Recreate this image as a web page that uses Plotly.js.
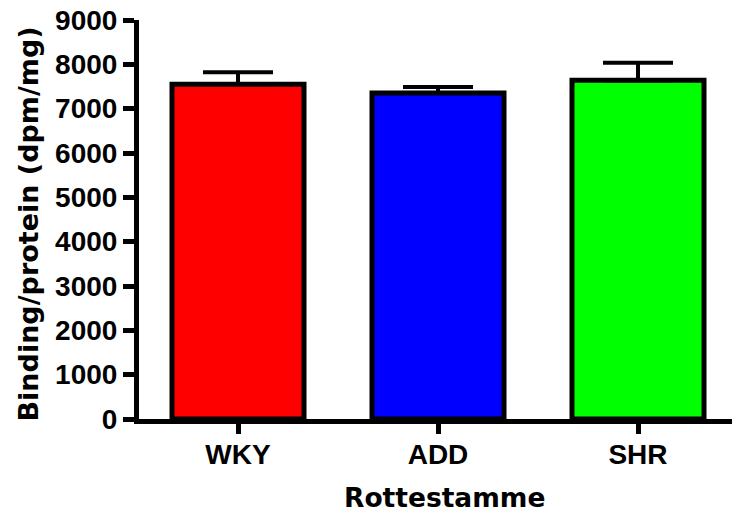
<!DOCTYPE html>
<html>
<head>
<meta charset="utf-8">
<script src="https://cdn.plot.ly/plotly-3.0.1.min.js"></script>
<style>html,body{margin:0;padding:0;background:#fff;}#chart{width:732px;height:512px;}</style>
</head>
<body>
<div id="chart"></div>
<script>
const categories = ["WKY", "ADD", "SHR"];
const means = [7553, 7351, 7643];
const sem = [266, 137, 394];
const barColors = ["#FF0000", "#0000FF", "#00FF00"];
const yTickVals = [0, 1000, 2000, 3000, 4000, 5000, 6000, 7000, 8000, 9000];
const yTitle = "Binding/protein (dpm/mg)";
const xTitle = "Rottestamme";

const trace = {
  type: "bar",
  x: categories,
  y: means,
  width: 0.66,
  marker: { color: barColors, line: { color: "#000", width: 5 } },
  error_y: {
    type: "data", array: sem, symmetric: false, arrayminus: sem.map(() => 0),
    color: "#000", thickness: 4, width: 35
  },
  hoverinfo: "none"
};

const tickFont = { family: "Liberation Sans, Arial, sans-serif", size: 28, color: "#000", weight: "bold" };
const titleFont = { family: "DejaVu Sans, sans-serif", size: 27, color: "#000", weight: "bold" };

const layout = {
  width: 732, height: 512,
  margin: { l: 139, r: 0, t: 20, b: 93, pad: 0 },
  paper_bgcolor: "#fff", plot_bgcolor: "#fff",
  showlegend: false,
  xaxis: {
    type: "category",
    range: [-0.495, 2.47],
    showline: true, linecolor: "#000", linewidth: 5,
    ticks: "outside", ticklen: 10, tickwidth: 5, tickcolor: "#000",
    ticklabelstandoff: -4,
    showgrid: false, zeroline: false,
    tickfont: tickFont,
    fixedrange: true
  },
  yaxis: {
    range: [0, 9000],
    tickmode: "array", tickvals: yTickVals, ticktext: yTickVals.map(String),
    showline: true, linecolor: "#000", linewidth: 5,
    ticks: "outside", ticklen: 11, tickwidth: 5, tickcolor: "#000",
    showgrid: false, zeroline: false,
    tickfont: tickFont,
    fixedrange: true
  },
  annotations: [
    { text: yTitle, textangle: -90, xref: "paper", yref: "paper",
      x: (28 - 139) / 593, y: (419 - 224.5) / 399, xanchor: "center", yanchor: "middle",
      showarrow: false, font: titleFont },
    { text: xTitle, xref: "paper", yref: "paper",
      x: (444 - 139) / 593, y: (419 - 497.5) / 399, xanchor: "center", yanchor: "middle",
      showarrow: false, font: { family: "DejaVu Sans, sans-serif", size: 26.5, color: "#000", weight: "bold" } }
  ]
};

Plotly.newPlot("chart", [trace], layout, { staticPlot: true, displayModeBar: false });
</script>
</body>
</html>
